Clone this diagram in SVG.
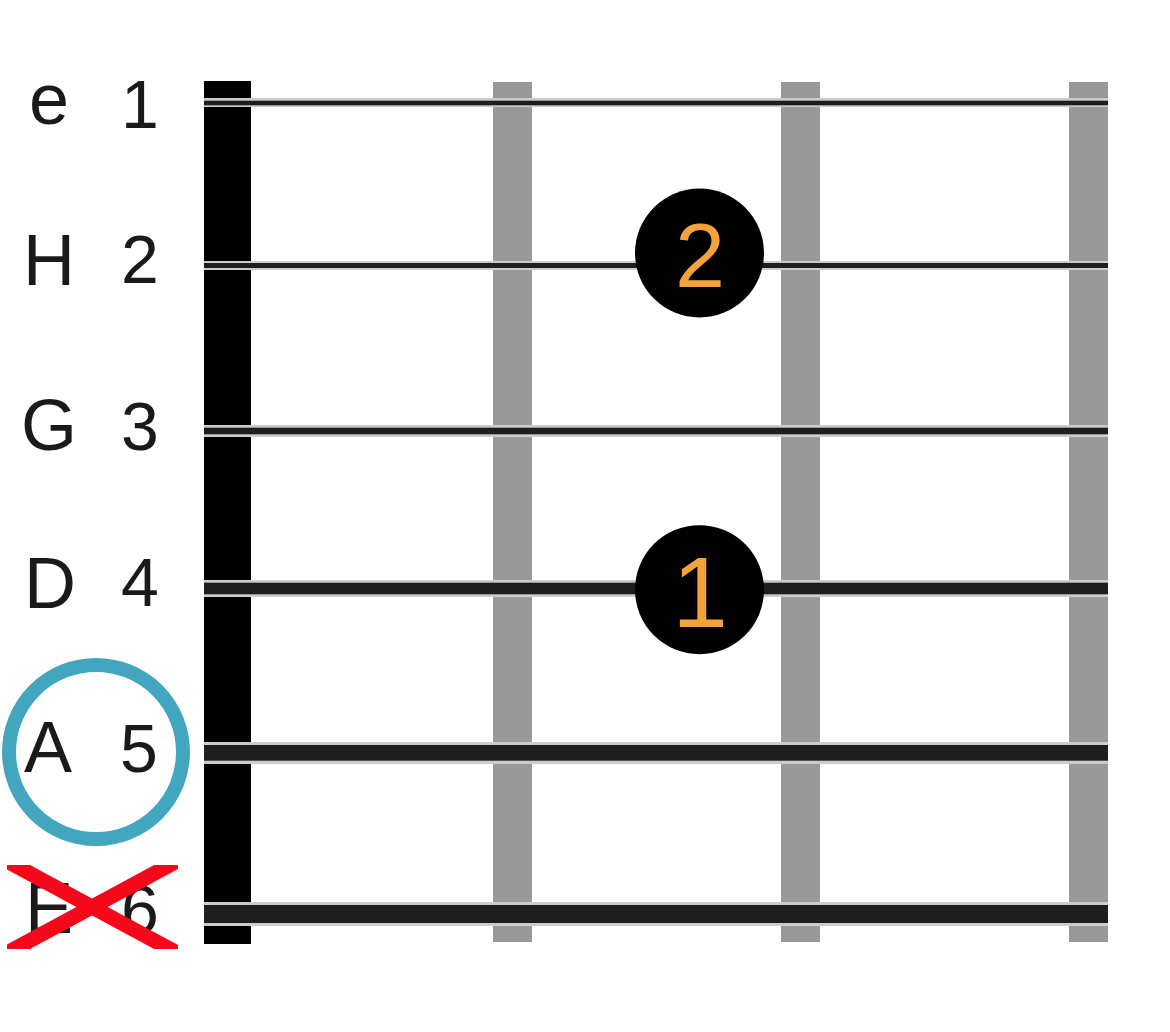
<svg xmlns="http://www.w3.org/2000/svg" width="1170" height="1032" viewBox="0 0 1170 1032">
<defs>
<style>
.lbl{font-family:"Liberation Sans",Arial,sans-serif;font-size:72px;fill:#1a1a1a;text-anchor:middle}
.num{font-family:"Liberation Sans",Arial,sans-serif;font-size:68px;fill:#1a1a1a;text-anchor:middle}
.fret{fill:#999999}
.sg{fill:#cccccc}
.sd{fill:#1e1e1e}
.dot{fill:#000000}
.fing{font-family:"Liberation Sans",Arial,sans-serif;fill:#f4a23a;text-anchor:middle}
</style>
<clipPath id="xclip"><rect x="7" y="865" width="171" height="84"/></clipPath>
</defs>
<rect x="0" y="0" width="1170" height="1032" fill="#ffffff"/>
<g id="nut"><rect x="204" y="81" width="47" height="863" fill="#000000"/></g>
<g id="frets">
<rect class="fret" x="493" y="82" width="39" height="860"/>
<rect class="fret" x="781" y="82" width="39" height="860"/>
<rect class="fret" x="1069" y="82" width="39" height="860"/>
</g>
<g id="strings">
<g id="string1"><rect class="sg" x="204" y="98" width="904" height="9"/><rect class="sd" x="204" y="100.7" width="904" height="4.6"/></g>
<g id="string2"><rect class="sg" x="204" y="261" width="904" height="9"/><rect class="sd" x="204" y="263" width="904" height="5"/></g>
<g id="string3"><rect class="sg" x="204" y="425" width="904" height="12"/><rect class="sd" x="204" y="427.7" width="904" height="6.6"/></g>
<g id="string4"><rect class="sg" x="204" y="580" width="904" height="17"/><rect class="sd" x="204" y="582.7" width="904" height="11.6"/></g>
<g id="string5"><rect class="sg" x="204" y="742" width="904" height="22"/><rect class="sd" x="204" y="745" width="904" height="15.7"/></g>
<g id="string6"><rect class="sg" x="204" y="902" width="904" height="24"/><rect class="sd" x="204" y="905" width="904" height="18"/></g>
</g>
<g id="labels">
<g id="label-e"><text class="lbl" x="49" y="124">e</text><text class="num" x="140" y="128">1</text></g>
<g id="label-H"><text class="lbl" x="49" y="285">H</text><text class="num" x="140" y="283">2</text></g>
<g id="label-G"><text class="lbl" x="49" y="450">G</text><text class="num" x="140" y="450">3</text></g>
<g id="label-D"><text class="lbl" x="50" y="608">D</text><text class="num" x="140" y="606">4</text></g>
<g id="label-A"><text class="lbl" x="48" y="772">A</text><text class="num" x="139" y="772">5</text>
<circle cx="96" cy="752" r="87" fill="none" stroke="#42a6bf" stroke-width="14"/></g>
<g id="label-E"><text class="lbl" x="49" y="933">E</text><text class="num" x="140" y="933">6</text>
<g clip-path="url(#xclip)" stroke="#f5081a" stroke-width="15">
<line x1="-13" y1="850.3" x2="198" y2="964.2"/>
<line x1="-13" y1="963.7" x2="198" y2="849.8"/>
</g></g>
</g>
<g id="finger2"><circle class="dot" cx="699.5" cy="253" r="64.5"/><text class="fing" x="700" y="287" font-size="90">2</text></g>
<g id="finger1"><circle class="dot" cx="699.5" cy="589.7" r="64.5"/><text class="fing" x="700" y="627" font-size="100">1</text></g>
</svg>
